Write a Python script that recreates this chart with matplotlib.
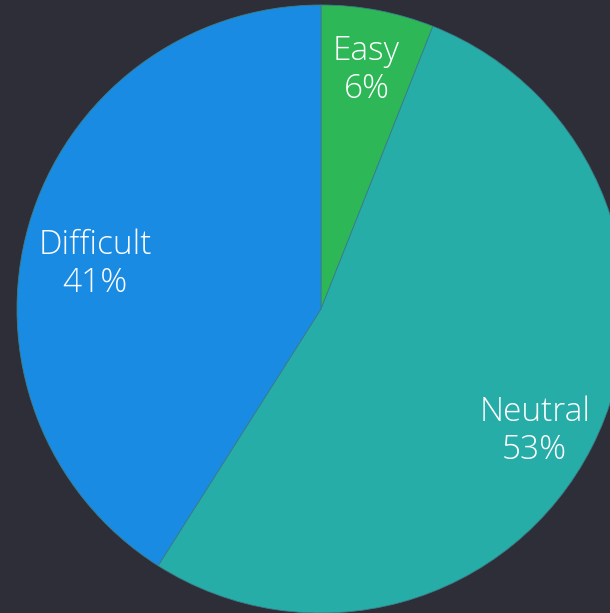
import numpy as np
from matplotlib import pyplot as plt

labels = ['Easy', 'Neutral', 'Difficult']
shares = [6, 53, 41]
colors = ['#2db757', '#27ada8', '#1a8be3']
bg = '#2e2e38'

# nudges for the label blocks, in data units (dx, dy)
nudge = [(0.0, 0.0), (-0.01, -0.04), (0.025, -0.075)]

fig = plt.figure(figsize=(6.10, 6.13), dpi=100, facecolor=bg)
ax = fig.add_axes([0, 0, 1, 1])
ax.set_facecolor(bg)

wedges, _ = ax.pie(shares, colors=colors, startangle=90, counterclock=False,
                   radius=1.0, wedgeprops=dict(linewidth=0.6, edgecolor='#3a7f8a'))

# labels sit inside each wedge, on the bisector
for w, lab, val, (dx, dy) in zip(wedges, labels, shares, nudge):
    mid = np.deg2rad((w.theta1 + w.theta2) / 2)
    r = 0.80
    ax.text(r * np.cos(mid) + dx, r * np.sin(mid) + dy, f'{lab}\n{val}%',
            ha='center', va='center', color='white', fontsize=24,
            family='Open Sans', fontweight='light', linespacing=1.17)

ax.set_xlim(-321 / 304, (610 - 321) / 304)
ax.set_ylim(-(613 - 309) / 304, 309 / 304)
ax.set_aspect('auto')
ax.axis('off')

fig.savefig('out.png', dpi=100, facecolor=bg)
